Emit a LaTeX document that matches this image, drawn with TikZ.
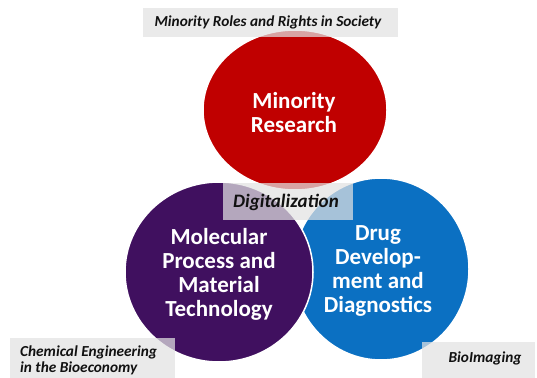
\documentclass[tikz,border=0pt]{standalone}
\usepackage{fontspec}
\setmainfont{Carlito}
\definecolor{cred}{HTML}{C00000}
\definecolor{cpurple}{HTML}{40105F}
\definecolor{cblue}{HTML}{0B70C2}
\definecolor{boxgray}{HTML}{E2E2E2}
\definecolor{labtext}{HTML}{111111}
\begin{document}
\begin{tikzpicture}[x=1pt,y=-1pt,
  venn/.style={draw=white,line width=1.5pt},
  circtext/.style={text=white,font=\bfseries\fontsize{23}{24}\selectfont,align=center,inner sep=0pt},
  labelbox/.style={fill=boxgray,fill opacity=0.72,draw=none,inner sep=0pt},
  labeltext/.style={text=labtext,font=\bfseries\itshape\fontsize{15.3}{17.5}\selectfont,inner sep=0pt}
]
\useasboundingbox (0,0) rectangle (537,377);
\fill[white] (0,0) rectangle (537,377);
% circles
\draw[venn,fill=cblue] (381,269) ellipse [x radius=88, y radius=91];
\draw[venn,fill=cpurple] (219,272) ellipse [x radius=94, y radius=90];
\draw[venn,fill=cred] (295,110) ellipse [x radius=92, y radius=80];
% circle texts
\node[circtext] (red) at (294,113) {Minority\\Research};
\node[circtext] (purple) at (219,274) {Molecular\\Process and\\Material\\Technology};
\node[circtext] (blue) at (378,271) {Drug\\Develop-\\ment and\\Diagnostics};
% label boxes
\node[labelbox,minimum width=255pt,minimum height=29pt] (topbox) at (270.5,22.5) {};
\node[labeltext] (toptext) at (268,22.5) {Minority Roles and Rights in Society};
\node[labelbox,minimum width=130pt,minimum height=37pt] (digbox) at (288,201.5) {};
\node[labeltext,font=\bfseries\itshape\fontsize{19}{21}\selectfont] (digtext) at (286,202) {Digitalization};
\node[labelbox,minimum width=165pt,minimum height=44pt] (blbox) at (92.5,360) {};
\node[labeltext,align=left,anchor=north west,font=\bfseries\itshape\fontsize{15.3}{16.5}\selectfont] (bltext) at (20,345.5) {Chemical Engineering\\in the Bioeconomy};
\node[labelbox,minimum width=113pt,minimum height=40pt] (brbox) at (478.5,362) {};
\node[labeltext] (brtext) at (485,358) {BioImaging};
\end{tikzpicture}
\end{document}
